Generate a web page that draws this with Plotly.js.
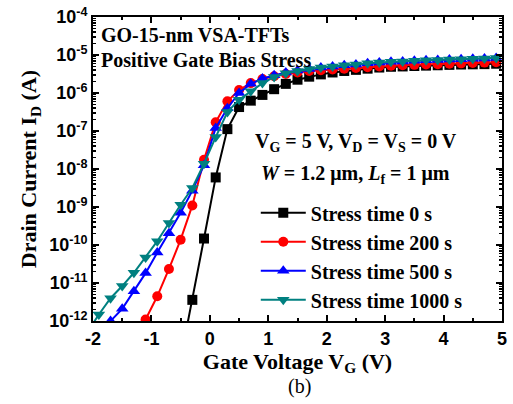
<!DOCTYPE html>
<html>
<head>
<meta charset="utf-8">
<script src="https://cdn.plot.ly/plotly-3.0.1.min.js"></script>
<style>html,body{margin:0;padding:0;background:#fff;}#chart{width:513px;height:404px;}</style>
</head>
<body>
<div id="chart"></div>
<script>
// Gate voltage (V)
const vg = [-2.1,-1.9,-1.7,-1.5,-1.3,-1.1,-0.9,-0.7,-0.5,-0.3,-0.1,0.1,0.3,0.5,0.7,0.9,1.1,1.3,1.5,1.7,1.9,2.1,2.3,2.5,2.7,2.9,3.1,3.3,3.5,3.7,3.9,4.1,4.3,4.5,4.7,4.9];

// Drain current (A) for each stress time
const id0 = [null,null,null,null,null,null,null,null,1.0e-13,3.6e-12,1.48e-10,6.0e-9,1.12e-7,4.27e-7,6.3e-7,8.9e-7,1.26e-6,1.74e-6,2.24e-6,2.69e-6,3.09e-6,3.47e-6,3.8e-6,4.07e-6,4.37e-6,4.68e-6,4.9e-6,5.0e-6,5.13e-6,5.25e-6,5.37e-6,5.5e-6,5.62e-6,5.69e-6,5.75e-6,5.89e-6];
const id200 = [null,null,null,null,1.26e-13,1.1e-12,4.47e-12,2.34e-11,1.38e-10,1.1e-9,1.74e-8,1.7e-7,6.03e-7,1.2e-6,1.82e-6,2.34e-6,2.75e-6,3.16e-6,3.47e-6,3.8e-6,3.98e-6,4.17e-6,4.37e-6,4.57e-6,4.79e-6,5.0e-6,5.25e-6,5.37e-6,5.5e-6,5.62e-6,5.75e-6,5.89e-6,6.03e-6,6.17e-6,6.31e-6,6.46e-6];
const id500 = [null,3.16e-13,1.0e-12,2.09e-12,6.03e-12,1.82e-11,6.31e-11,2.04e-10,7.08e-10,2.69e-9,1.26e-8,1.2e-7,3.98e-7,1.0e-6,1.74e-6,2.4e-6,2.95e-6,3.47e-6,3.89e-6,4.27e-6,4.68e-6,5.0e-6,5.37e-6,5.62e-6,6.03e-6,6.31e-6,6.61e-6,6.76e-6,7.08e-6,7.24e-6,7.41e-6,7.59e-6,7.76e-6,7.94e-6,8.13e-6,8.32e-6];
const id1000 = [5.0e-13,1.48e-12,3.98e-12,8.32e-12,1.86e-11,4.68e-11,1.26e-10,3.8e-10,1.15e-9,3.16e-9,1.38e-8,6.92e-8,3.16e-7,6.61e-7,1.12e-6,1.82e-6,2.63e-6,3.31e-6,3.8e-6,4.27e-6,4.68e-6,5.0e-6,5.37e-6,5.62e-6,6.03e-6,6.31e-6,6.61e-6,6.76e-6,7.08e-6,7.24e-6,7.41e-6,7.59e-6,7.76e-6,7.94e-6,8.13e-6,8.32e-6];

const seriesNames = ['Stress time 0 s','Stress time 200 s','Stress time 500 s','Stress time 1000 s'];
const seriesColors = ['#000000','#ff0000','#0000ff','#008080'];
const seriesSymbols = ['square','circle','triangle-up','triangle-down'];
const seriesSizes = [10, 10, 11, 11];
const seriesData = [id0, id200, id500, id1000];

// Tick labels
const yTickVals = [1e-12,1e-11,1e-10,1e-9,1e-8,1e-7,1e-6,1e-5,1e-4];
const yTickText = ['10<sup>-12</sup>','10<sup>-11</sup>','10<sup>-10</sup>','10<sup>-9</sup>','10<sup>-8</sup>','10<sup>-7</sup>','10<sup>-6</sup>','10<sup>-5</sup>','10<sup>-4</sup>'];
const xTickVals = [-2,-1,0,1,2,3,4,5];
const xTickText = ['-2','-1','0','1','2','3','4','5'];

const traces = seriesData.map((d, k) => ({
  x: vg, y: d, name: seriesNames[k], type: 'scatter', mode: 'lines+markers',
  line: {color: seriesColors[k], width: 2},
  marker: {symbol: seriesSymbols[k], size: seriesSizes[k], color: seriesColors[k]}
}));

const serif = 'Liberation Serif, Times New Roman, serif';
const sans = 'Liberation Sans, Arial, sans-serif';

const layout = {
  width: 513, height: 404,
  margin: {l: 93, r: 11, t: 17, b: 82.5},
  paper_bgcolor: '#fff', plot_bgcolor: '#fff',
  showlegend: true,
  legend: {x: 0.398, y: 0.42, xanchor: 'left', yanchor: 'top', bgcolor: 'rgba(0,0,0,0)',
           font: {family: serif, size: 20, color: '#000', weight: 'bold'}, itemwidth: 45, tracegroupgap: 0},
  xaxis: {
    type: 'linear', range: [-2, 5], tickvals: xTickVals, ticktext: xTickText,
    ticks: 'inside', ticklen: 6, tickwidth: 2, tickcolor: '#000',
    showline: true, linewidth: 2, linecolor: '#000', mirror: 'ticks', showgrid: false, zeroline: false,
    minor: {ticks: 'inside', ticklen: 3, tickwidth: 2, dtick: 0.5, tickcolor: '#000', showgrid: false},
    tickfont: {family: sans, size: 18, color: '#000', weight: 'bold'},
    title: {text: 'Gate Voltage V<sub>G</sub> (V)', font: {family: serif, size: 22, color: '#000', weight: 'bold'}, standoff: 4}
  },
  yaxis: {
    type: 'log', range: [-12, -4], tickvals: yTickVals, ticktext: yTickText,
    ticks: 'inside', ticklen: 6, tickwidth: 2, tickcolor: '#000',
    showline: true, linewidth: 2, linecolor: '#000', mirror: 'ticks', showgrid: false, zeroline: false,
    minor: {ticks: 'inside', ticklen: 3, tickwidth: 1.5, dtick: 'D1', tickcolor: '#000', showgrid: false},
    tickfont: {family: sans, size: 18, color: '#000', weight: 'bold'},
    title: {text: 'Drain Current I<sub>D</sub> (A)', font: {family: serif, size: 22, color: '#000', weight: 'bold'}, standoff: 6}
  },
  annotations: [
    {xref: 'paper', yref: 'paper', x: 0.015, y: 0.94, xanchor: 'left', yanchor: 'middle', showarrow: false,
     text: 'GO-15-nm VSA-TFTs', font: {family: serif, size: 20, color: '#000', weight: 'bold'}},
    {xref: 'paper', yref: 'paper', x: 0.015, y: 0.858, xanchor: 'left', yanchor: 'middle', showarrow: false,
     text: 'Positive Gate Bias Stress', font: {family: serif, size: 20, color: '#000', weight: 'bold'}},
    {xref: 'paper', yref: 'paper', x: 0.643, y: 0.586, xanchor: 'center', yanchor: 'middle', showarrow: false,
     text: 'V<sub>G</sub> = 5 V, V<sub>D</sub> = V<sub>S</sub> = 0 V', font: {family: serif, size: 20, color: '#000', weight: 'bold'}},
    {xref: 'paper', yref: 'paper', x: 0.643, y: 0.481, xanchor: 'center', yanchor: 'middle', showarrow: false,
     text: '<i>W</i> = 1.2 μm, <i>L</i><sub>f</sub> = 1 μm', font: {family: serif, size: 20, color: '#000', weight: 'bold'}},
    {xref: 'paper', yref: 'paper', x: 0.506, y: -0.215, xanchor: 'center', yanchor: 'middle', showarrow: false,
     text: '(b)', font: {family: serif, size: 20, color: '#000'}}
  ]
};

Plotly.newPlot('chart', traces, layout, {staticPlot: true, displayModeBar: false});
</script>
</body>
</html>
